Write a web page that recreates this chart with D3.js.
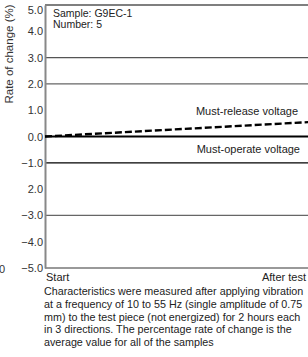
<!DOCTYPE html>
<html>
<head>
<meta charset="utf-8">
<script src="https://cdn.jsdelivr.net/npm/d3@7"></script>
<style>
  body { margin: 0; background: #fff; }
  svg { display: block; font-family: "Liberation Sans", Arial, sans-serif; }
</style>
</head>
<body>
<div id="chart"></div>
<script>
// datos
const categories = ["Start", "After test"];
const releaseValues = [0.0, 0.55];
const operateValues = [0.0, 0.0];
const tickValues = [5, 4, 3, 2, 1, 0, -1, -2, -3, -4, -5];
const tickLabels = ["5.0", "4.0", "3.0", "2.0", "1.0", "0.0", "\u22121.0", "2.0", "\u22123.0", "\u22124.0", "\u22125.0"];
const gridValues = [5, 3, 2, -1, -3, -5];
const gridColors = ["#555", "#555", "#666", "#000", "#666", "#777"];
const caption = [
  "Characteristics were measured after applying vibration",
  "at a frequency of 10 to 55 Hz (single amplitude of 0.75",
  "mm) to the test piece (not energized) for 2 hours each",
  "in 3 directions. The percentage rate of change is the",
  "average value for all of the samples"
];

const width = 308, height = 357;
const plotLeft = 45, plotRight = 310, plotTop = 5, plotBottom = 268;

const svg = d3.select("#chart").append("svg")
  .attr("width", width)
  .attr("height", height);

const x = d3.scalePoint().domain(categories).range([plotLeft, plotRight]);
const y = d3.scaleLinear().domain([-5, 5]).range([plotBottom, plotTop]);

// lineas de la cuadricula
svg.append("g")
  .selectAll("line")
  .data(gridValues)
  .join("line")
  .attr("x1", plotLeft)
  .attr("x2", width)
  .attr("y1", d => y(d))
  .attr("y2", d => y(d))
  .attr("stroke", (d, i) => gridColors[i])
  .attr("stroke-width", 1.3);

// eje Y
const yAxis = svg.append("g")
  .attr("transform", `translate(${plotLeft},0)`)
  .call(d3.axisLeft(y)
    .tickValues(tickValues)
    .tickSize(0)
    .tickPadding(2)
    .tickFormat((d, i) => tickLabels[i]));
yAxis.select(".domain").attr("stroke", "#888").attr("stroke-width", 2);
yAxis.selectAll("text")
  .attr("fill", "#333")
  .style("font-size", "11px")
  .style("font-family", "'Liberation Sans', Arial, sans-serif");
// la etiqueta superior queda un poco por debajo de la linea
yAxis.selectAll(".tick").filter(d => d === 5).select("text").attr("dy", "0.75em");

// titulo del eje
svg.append("text")
  .attr("transform", `translate(13,54) rotate(-90)`)
  .attr("text-anchor", "middle")
  .attr("fill", "#333")
  .style("font-size", "11.5px")
  .text("Rate of change (%)");

// resto de otro grafico (recortado)
svg.append("text")
  .attr("x", -1).attr("y", 273)
  .attr("fill", "#333")
  .style("font-size", "11px")
  .text("0");

// etiquetas de categorias
svg.selectAll(".cat")
  .data(categories)
  .join("text")
  .attr("class", "cat")
  .attr("x", d => d === "Start" ? x(d) + 1 : width - 2)
  .attr("y", 281)
  .attr("text-anchor", d => d === "Start" ? "start" : "end")
  .attr("fill", "#222")
  .style("font-size", "11px")
  .text(d => d);

const line = d3.line()
  .x((d, i) => x(categories[i]))
  .y(d => y(d));

// Must-operate (solida)
svg.append("path")
  .datum(operateValues)
  .attr("d", line)
  .attr("fill", "none")
  .attr("stroke", "#000")
  .attr("stroke-width", 2.2);

// Must-release (discontinua)
svg.append("path")
  .datum(releaseValues)
  .attr("d", line)
  .attr("fill", "none")
  .attr("stroke", "#000")
  .attr("stroke-width", 2.4)
  .attr("stroke-dasharray", "7,3");

svg.append("text")
  .attr("x", 298).attr("y", 115)
  .attr("text-anchor", "end")
  .attr("fill", "#222")
  .style("font-size", "11px")
  .text("Must-release voltage");

svg.append("text")
  .attr("x", 300).attr("y", 153)
  .attr("text-anchor", "end")
  .attr("fill", "#222")
  .style("font-size", "11px")
  .text("Must-operate voltage");

// muestra
svg.append("text")
  .attr("x", 53).attr("y", 17)
  .attr("fill", "#222")
  .style("font-size", "10.5px")
  .text("Sample: G9EC-1");
svg.append("text")
  .attr("x", 53).attr("y", 28)
  .attr("fill", "#222")
  .style("font-size", "10.5px")
  .text("Number: 5");

// texto al pie
svg.append("g")
  .selectAll("text")
  .data(caption)
  .join("text")
  .attr("x", 44)
  .attr("y", (d, i) => 295 + i * 12.8)
  .attr("fill", "#222")
  .style("font-size", "10.75px")
  .text(d => d);
</script>
</body>
</html>
